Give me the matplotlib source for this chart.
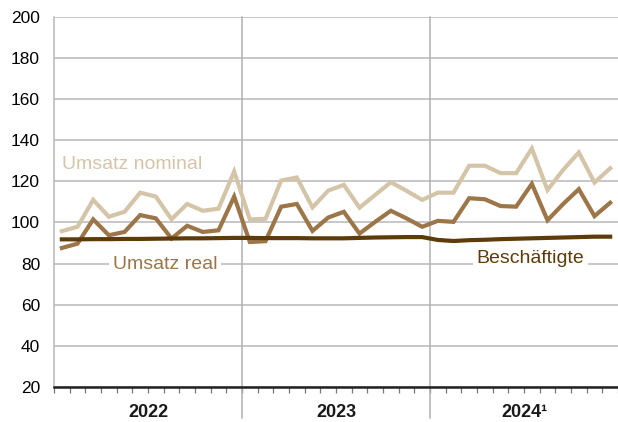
import numpy as np
import matplotlib.pyplot as plt

years = ["2022", "2023", "2024\u00b9"]

# monthly index values, Jan 2022 - Dec 2024
umsatz_nominal = [95.8, 97.9, 111.0, 102.8, 105.2, 114.5, 112.6, 101.6, 109.0, 105.7, 106.7, 124.8,
                  101.5, 101.8, 120.4, 121.9, 107.3, 115.5, 118.3, 107.2, 113.4, 119.6, 115.4, 111.0,
                  114.5, 114.5, 127.6, 127.6, 124.0, 124.0, 136.0, 115.8, 125.6, 134.1, 119.4, 126.4]
umsatz_real = [87.6, 89.7, 101.5, 93.8, 95.4, 103.6, 102.0, 92.2, 98.4, 95.4, 96.2, 112.6,
               90.5, 90.9, 107.7, 109.0, 95.9, 102.4, 105.2, 94.6, 100.3, 105.7, 102.0, 97.9,
               100.8, 100.3, 111.8, 111.3, 108.0, 107.7, 118.8, 101.1, 109.0, 116.2, 103.1, 109.6]
beschaeftigte = [91.8, 91.8, 91.9, 91.9, 92.0, 92.0, 92.1, 92.2, 92.3, 92.3, 92.4, 92.5,
                 92.5, 92.4, 92.4, 92.4, 92.3, 92.3, 92.3, 92.5, 92.7, 92.8, 92.9, 92.9,
                 91.5, 91.0, 91.4, 91.6, 91.9, 92.1, 92.3, 92.5, 92.7, 92.9, 93.1, 93.1]

c_nom = "#d4c5a9"
c_real = "#9c7548"
c_besch = "#5e3b0b"

plt.rcParams["font.family"] = ["Liberation Sans", "DejaVu Sans"]

fig = plt.figure(figsize=(6.18, 4.22), dpi=100)
ax = fig.add_axes([0.0874, 0.083, 0.9126, 0.877])

x = np.arange(len(umsatz_nominal))
ax.plot(x, umsatz_nominal, color=c_nom, lw=3, zorder=3, solid_joinstyle="miter")
ax.plot(x, umsatz_real, color=c_real, lw=3, zorder=4, solid_joinstyle="miter")
ax.plot(x, beschaeftigte, color=c_besch, lw=3, zorder=5, solid_joinstyle="miter")

ax.set_xlim(-0.5, 35.5)
ax.set_ylim(20, 200)
ax.set_yticks(range(20, 201, 20))
ax.yaxis.grid(True, color="#b8b8b8", lw=1.1)
ax.set_axisbelow(True)
ax.tick_params(axis="y", length=0, labelsize=12.5, pad=10)

for s in ["top", "right"]:
    ax.spines[s].set_visible(False)
ax.spines["left"].set_color("#b8b8b8")
ax.spines["left"].set_linewidth(1.1)
ax.spines["bottom"].set_color("#222222")
ax.spines["bottom"].set_linewidth(1.8)

ax.set_xticks([])
ax.set_xticks(np.arange(-0.5, 36, 1), minor=True)
ax.tick_params(axis="x", which="minor", direction="out", length=4, width=0.9, color="#777777")

for b in [11.5, 23.5]:
    ax.axvline(b, ymin=-0.085, ymax=1, color="#b0b0b0", lw=1.1, clip_on=False, zorder=1)

for i, yr in enumerate(years):
    ax.text(5.5 + 12 * i, -0.068, yr, transform=ax.get_xaxis_transform(),
            ha="center", va="center", fontsize=13, fontweight="bold", color="#1a1a1a")

box = dict(facecolor="white", edgecolor="none", pad=2.5)
ax.text(0, 128, "Umsatz nominal", color=c_nom, fontsize=14, ha="left", va="center", zorder=6)
ax.text(6.6, 79.5, "Umsatz real", color=c_real, fontsize=14, ha="center", va="center",
        bbox=box, zorder=6)
ax.text(29.9, 82.5, "Besch\u00e4ftigte", color=c_besch, fontsize=14, ha="center", va="center",
        bbox=box, zorder=6)

fig.savefig("out.png", dpi=100)
